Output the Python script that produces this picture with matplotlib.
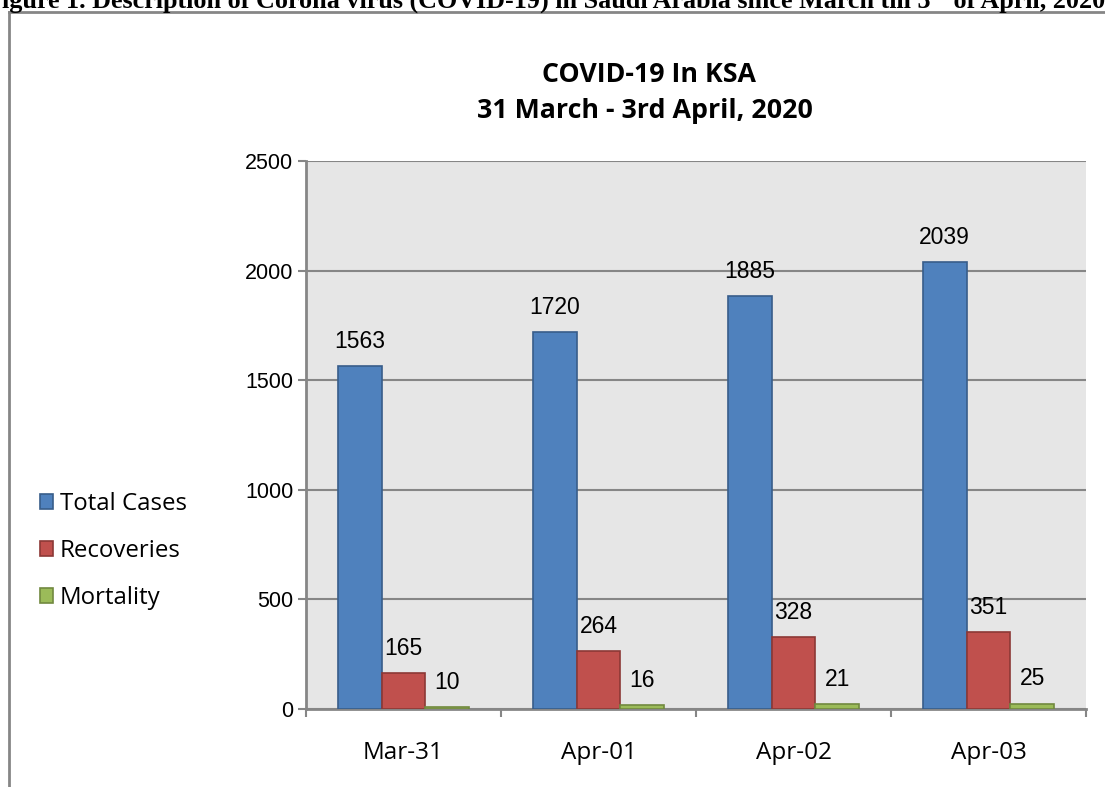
import matplotlib
matplotlib.use("Agg")
import matplotlib.pyplot as plt
from matplotlib.patches import Patch
from matplotlib.lines import Line2D
import numpy as np

categories = ["Mar-31", "Apr-01", "Apr-02", "Apr-03"]
series_names = ["Total Cases", "Recoveries", "Mortality"]
total_cases = [1563, 1720, 1885, 2039]
recoveries = [165, 264, 328, 351]
mortality = [10, 16, 21, 25]
y_ticks = [0, 500, 1000, 1500, 2000, 2500]

face_colors = ["#4F81BD", "#C0504D", "#9BBB59"]
edge_colors = ["#385D8A", "#8C3836", "#71893F"]

W, H = 1105, 787
fig = plt.figure(figsize=(W / 100, H / 100), dpi=100)
fig.patch.set_facecolor("white")

ax = fig.add_axes([306 / W, 1 - 709 / H, (1086 - 306) / W, (709 - 161) / H])
ax.set_facecolor("#E6E6E6")

x = np.arange(len(categories))
bw = 0.225
grid_c = "#868686"
for i, (vals, fc, ec) in enumerate(zip([total_cases, recoveries, mortality], face_colors, edge_colors)):
    bars = ax.bar(x + (i - 1) * bw, vals, width=bw, color=fc, edgecolor=ec, linewidth=1.2, zorder=3)
    for b, v in zip(bars, vals):
        ax.annotate(str(v), (b.get_x() + b.get_width() / 2, v), xytext=(0, 13),
                    textcoords="offset points", ha="center", va="baseline",
                    fontsize=16.5, family="Liberation Sans", color="black", zorder=4)

ax.set_xlim(-0.5, 3.5)
ax.set_ylim(0, 2500)
ax.set_yticks(y_ticks)
ax.set_yticklabels([str(t) for t in y_ticks], fontsize=15.5, family="Liberation Sans")
ax.yaxis.grid(True, color=grid_c, linewidth=1.5, zorder=1)
ax.set_axisbelow(True)

ax.set_xticks(x)
ax.set_xticklabels(categories, fontsize=17.5, family="Open Sans")
ax.set_xticks(np.arange(-0.5, 4.0, 1.0), minor=True)
ax.tick_params(axis="x", which="major", length=0, pad=23)
ax.tick_params(axis="x", which="minor", length=6, width=1.5, color=grid_c, direction="out")
ax.tick_params(axis="y", length=6, width=1.5, color=grid_c, direction="out", pad=3)

for s in ["top", "right"]:
    ax.spines[s].set_visible(False)
for s in ["left", "bottom"]:
    ax.spines[s].set_color(grid_c)
    ax.spines[s].set_linewidth(2)

# Chart title
fig.text(649 / W, 1 - 82 / H, "COVID-19 In KSA", ha="center", va="baseline",
         fontsize=19.3, family="Open Sans", weight="bold")
fig.text(645 / W, 1 - 118 / H, "31 March - 3rd April, 2020", ha="center", va="baseline",
         fontsize=19.3, family="Open Sans", weight="bold")

# Legend
handles = [Patch(facecolor=fc, edgecolor=ec, linewidth=1.2) for fc, ec in zip(face_colors, edge_colors)]
fig.legend(handles, series_names, loc="center left", bbox_to_anchor=(30 / W, 1 - 551 / H),
           frameon=False, prop={"family": "Open Sans", "size": 17.3},
           handlelength=0.55, handleheight=0.55, handletextpad=0.3, labelspacing=0.95,
           borderaxespad=0)

# Outer chart frame
fig.add_artist(Line2D([8.5 / W, 8.5 / W], [0, 1 - 11.5 / H], transform=fig.transFigure,
                      color="#868686", linewidth=2))
fig.add_artist(Line2D([8.5 / W, 1], [1 - 11.5 / H, 1 - 11.5 / H], transform=fig.transFigure,
                      color="#868686", linewidth=2))

# Document caption (cut off at the edges, as in the source)
cap_kw = dict(family="Liberation Serif", weight="bold", color="black")
base_y = 1 - 8 / H
fig.canvas.draw()
r = fig.canvas.get_renderer()
t1 = fig.text(-14 / W, base_y, "Figure 1. Description of Corona virus (COVID-19) in Saudi Arabia since March till 3",
              va="baseline", ha="left", fontsize=18.8, **cap_kw)
bb = t1.get_window_extent(renderer=r)
t2 = fig.text(bb.x1 / W, base_y + 8 / H, "rd", va="baseline", ha="left", fontsize=12, **cap_kw)
bb2 = t2.get_window_extent(renderer=r)
fig.text(bb2.x1 / W, base_y, " of April, 2020", va="baseline", ha="left", fontsize=18.8, **cap_kw)

fig.savefig("out.png", dpi=100, facecolor="white")
